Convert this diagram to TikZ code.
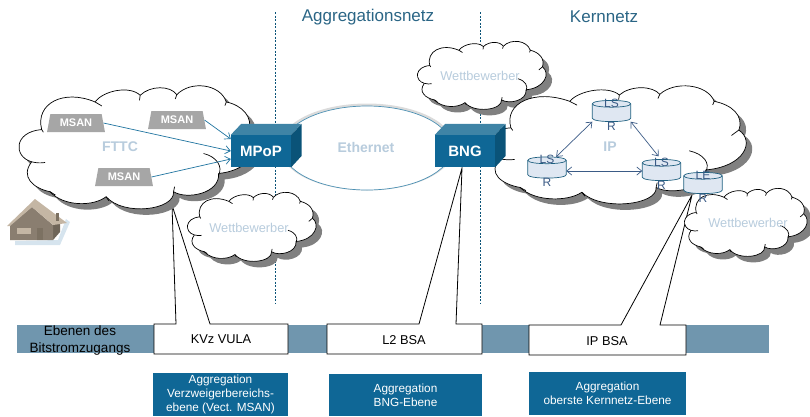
\documentclass[tikz,border=0pt]{standalone}
\usepackage{fontspec}
\setmainfont{Liberation Sans}
\usetikzlibrary{arrows.meta,shapes.geometric}
\definecolor{boxblue}{HTML}{0F6796}
\definecolor{boxtop}{HTML}{3F84A6}
\definecolor{boxside}{HTML}{0A5378}
\definecolor{paleblue}{HTML}{B8CCDD}
\definecolor{barblue}{HTML}{7096AE}
\definecolor{routerblue}{HTML}{3B5B86}
\definecolor{routerfill}{HTML}{DFE7F2}
\definecolor{routerline}{HTML}{1F6080}
\definecolor{linkblue}{HTML}{1F74A0}
\definecolor{titleblue}{HTML}{2A6585}
\definecolor{houseroof}{HTML}{C4B6A4}
\definecolor{housefront}{HTML}{8A7E70}
\definecolor{houseside}{HTML}{6F6558}
\definecolor{housedoor}{HTML}{7C7162}
\definecolor{houseshade}{HTML}{D6E4EE}
\tikzset{
	msanbox/.style={trapezium,trapezium left angle=75,trapezium right angle=75,trapezium stretches=true,minimum width=58pt,minimum height=18pt,inner sep=0pt,fill=black!35,text=white,font=\fontsize{11}{12}\selectfont\bfseries},
	cubefront/.style={rectangle,fill=boxblue,text=white,minimum width=60pt,minimum height=32pt,inner sep=0pt,font=\fontsize{15}{16}\selectfont\bfseries},
	paletext/.style={text=paleblue,inner sep=0pt,font=\fontsize{12.8}{13}\selectfont},
	palebold/.style={text=paleblue,inner sep=0pt,font=\fontsize{14}{15}\selectfont\bfseries},
	router/.style={rectangle,minimum width=38pt,minimum height=21pt,inner sep=0pt},
	routertext/.style={text=routerblue,inner sep=0pt,align=center,font=\fontsize{12}{23}\selectfont},
	infobox/.style={fill=boxblue,text=white,inner sep=0pt,align=center,font=\fontsize{11.8}{14}\selectfont},
	levelbox/.style={draw=black,fill=white,line width=0.8pt,line join=miter},
	leveltext/.style={inner sep=0pt,font=\fontsize{12.8}{13}\selectfont},
	titletext/.style={text=titleblue,inner sep=0pt,font=\fontsize{17}{18}\selectfont},
	linkarrow/.style={draw=linkblue,line width=0.7pt,-{Straight Barb[length=5pt,width=8pt]}},
	corearrow/.style={draw=routerblue,line width=0.7pt,{Straight Barb[length=5pt,width=8pt]}-{Straight Barb[length=5pt,width=8pt]}}
}
% outline of one cloud, in its own coordinates
\newcommand{\cloudoutline}{(125,208) .. controls (105,130) and (190,85) .. (285,125) .. controls (310,90) and (390,75) .. (420,105) .. controls (450,75) and (510,75) .. (530,103) .. controls (570,60) and (660,70) .. (678,125) .. controls (725,135) and (760,170) .. (745,215) .. controls (790,250) and (760,330) .. (655,340) .. controls (660,400) and (560,420) .. (520,395) .. controls (525,450) and (370,470) .. (318,410) .. controls (280,440) and (190,440) .. (150,395) .. controls (100,385) and (60,350) .. (95,305) .. controls (40,290) and (40,215) .. (125,208) -- cycle}
% #1,#2 left top, #3,#4 width height
\newcommand{\cloudat}[4]{
	\pgfmathsetmacro{\cloudsx}{#3/710}
	\pgfmathsetmacro{\cloudsy}{#4/370}
	\begin{scope}[shift={(#1+6,#2+6)},xscale=\cloudsx,yscale=\cloudsy,shift={(-60,-80)}]
		\fill[black!50] \cloudoutline;
	\end{scope}
	\begin{scope}[shift={(#1,#2)},xscale=\cloudsx,yscale=\cloudsy,shift={(-60,-80)}]
		\draw[fill=white,line width=0.7pt] \cloudoutline;
		\draw[line width=0.7pt] (125,208)--(130,216) (95,305) .. controls (110,309) and (125,309) .. (135,307) (285,125)--(305,137) (420,105)--(418,120) (530,103)--(525,116) (678,125)--(674,136) (745,215)--(725,232) (610,280) .. controls (650,290) and (668,320) .. (655,345) (520,395)--(523,380) (318,410)--(326,422) (150,395)--(166,405);
	\end{scope}
}
\begin{document}
\begin{tikzpicture}[x=1pt,y=-1pt,line join=round]
	\useasboundingbox (0,0) rectangle (810,416);
	\draw[boxside,line width=0.5pt,dash pattern=on 2pt off 1.5pt] (275,12)--(275,303) (480,12)--(480,303);
	\node[titletext] (aggtitle) at (368,17) {Aggregationsnetz};
	\node[titletext] (kerntitle) at (604,17) {Kernnetz};
	% bar and the three levels
	\fill[barblue] (17,325) rectangle (769,353);
	\draw[levelbox] (154,354)--(154,324)--(176,324)--(172,205)--(210,324)--(288,324)--(288,354)--cycle;
	\draw[levelbox] (327,354)--(327,324)--(419,324)--(462,168)--(456,324)--(482,324)--(482,354)--cycle;
	\draw[levelbox] (529,355)--(529,325)--(621,325)--(692,195)--(660,325)--(686,325)--(686,355)--cycle;
	\node[inner sep=0pt,align=center,font=\fontsize{13.5}{17}\selectfont] (bartext) at (80,340.5) {Ebenen des\\Bitstromzugangs};
	\node[leveltext] (kvz) at (221,339) {KVz VULA};
	\node[leveltext] (ltwo) at (404,340) {L2 BSA};
	\node[leveltext] (ipbsa) at (607,341) {IP BSA};
	\node[infobox,minimum width=135pt,minimum height=43pt] (infoa) at (220.5,394.5) {Aggregation\\Verzweigerbereichs-\\ebene (Vect. MSAN)};
	\node[infobox,minimum width=153pt,minimum height=42pt] (infob) at (405.5,395) {Aggregation\\BNG-Ebene};
	\node[infobox,minimum width=157pt,minimum height=43pt] (infoc) at (607.5,393.5) {Aggregation\\oberste Kernnetz-Ebene};
	% clouds
	\cloudat{20}{87}{237}{123}
	\cloudat{188}{193}{129}{69}
	\cloudat{418}{42}{129}{68}
	\cloudat{487}{87}{261}{118}
	\cloudat{685}{189}{123}{68}
	\node[palebold] (fttc) at (120,147) {FTTC};
	\node[palebold] (iptext) at (610,147) {IP};
	\node[paletext] (wbwa) at (249,228) {Wettbewerber};
	\node[paletext] (wbwb) at (480,76) {Wettbewerber};
	\node[paletext] (wbwc) at (748,223) {Wettbewerber};
	% ethernet ring
	\draw[black!40,opacity=0.35,line width=3pt] (367,147) ellipse (86 and 42);
	\draw[linkblue!80,fill=white,line width=0.7pt] (367,148) ellipse (85 and 42);
	\node[palebold] (ethernet) at (366,147) {Ethernet};
	% boxes
	\node[cubefront] (mpop) at (261,151) {MPoP};
	\node[cubefront] (bng) at (465,151) {BNG};
	\foreach \cube in {mpop,bng}{
		\fill[boxtop] (\cube.north west)--++(10.5,-11)--++(60,0)--(\cube.north east)--cycle;
		\fill[boxside] (\cube.north east)--++(10.5,-11)--++(0,32)--(\cube.south east)--cycle;
	}
	% access nodes
	\node[msanbox] (msana) at (76,123) {MSAN};
	\node[msanbox] (msanb) at (177,120) {MSAN};
	\node[msanbox] (msanc) at (124,177) {MSAN};
	\draw[linkarrow] (msana.east)--(mpop.west);
	\draw[linkarrow] (msanb.east)--([yshift=12pt]mpop.west);
	\draw[linkarrow] (msanc.east)--([yshift=-8pt]mpop.west);
	% routers
	\foreach \rname/\rx/\ry/\rtext in {lsra/611.5/111/LS,lsrb/547/167.5/LS,lsrc/661.5/170/LS,ler/703/183/LE}{
		\node[router] (\rname) at (\rx,\ry) {};
		\draw[routerline,fill=routerfill,line width=0.7pt] ([yshift=-3.5pt]\rname.north west)--([yshift=3.5pt]\rname.south west) .. controls ([yshift=-1pt]\rname.south west) and ([yshift=-1pt]\rname.south east) .. ([yshift=3.5pt]\rname.south east)--([yshift=-3.5pt]\rname.north east) .. controls ([yshift=1pt]\rname.north east) and ([yshift=1pt]\rname.north west) .. cycle;
		\draw[routerline,line width=0.7pt] ([yshift=-3.5pt]\rname.north west) .. controls ([yshift=-8pt]\rname.north west) and ([yshift=-8pt]\rname.north east) .. ([yshift=-3.5pt]\rname.north east);
		\node[routertext] (\rname text) at (\rx,\ry+3.5) {\rtext\\R};
	}
	\draw[corearrow] (lsra.south west)--([xshift=-10pt]lsrb.north east);
	\draw[corearrow] (lsra.south east)--([xshift=-3pt,yshift=3pt]lsrc.north);
	\draw[corearrow] ([yshift=-3.5pt]lsrb.east)--([yshift=-1pt]lsrc.west);
	% house
	\fill[houseshade] (15,241)--(15,245)--(60,245)--(70,222)--(66,219)--(58,240)--cycle;
	\fill[houseside] (53,225)--(60,221)--(60,232)--(53,240)--cycle;
	\fill[housefront] (10,225)--(32,207)--(53,225)--(53,240)--(10,240)--cycle;
	\fill[houseroof] (7,226)--(35,199)--(67,223)--(53,225)--(32,207)--(10,226)--cycle;
	\fill[houseroof] (17,228) rectangle (31,234);
	\fill[housedoor] (37,228) rectangle (43,240);
	\fill[housedoor] (56,213) rectangle (59,221);
\end{tikzpicture}
\end{document}
